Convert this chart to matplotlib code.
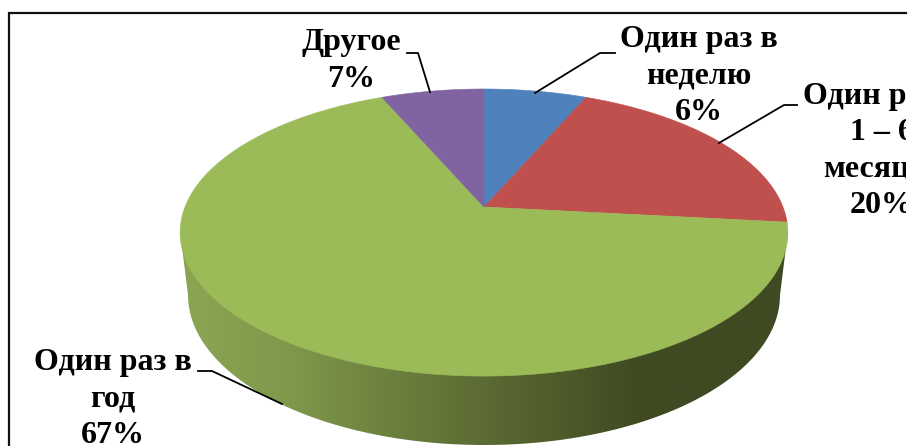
import numpy as np
import matplotlib
matplotlib.use("Agg")
import matplotlib.pyplot as plt
from matplotlib.patches import Polygon, Rectangle
from matplotlib.colors import LinearSegmentedColormap

categories = ["Один раз в\nнеделю", "Один раз в\n1 – 6\nмесяцев", "Один раз в\nгод", "Другое"]
shares_shown = ["6%", "20%", "67%", "7%"]
shares = [6.5, 20.2, 66.8, 6.5]
colors = ["#4f81bd", "#c0504d", "#9bbb59", "#8064a2"]

W, H = 913, 446
fig = plt.figure(figsize=(W / 100, H / 100), dpi=100)
ax = fig.add_axes([0, 0, 1, 1])
ax.set_xlim(0, W)
ax.set_ylim(H, 0)
ax.axis("off")

# projected circle: apex at (CX, CY), perspective factor C
CX, CY = 484, 207
D, A, C = 299.0, 139.0, 0.178


def project(theta):
    """theta measured clockwise from the top of the pie, in radians."""
    u, v = np.sin(theta), np.cos(theta)
    return CX + D * u / (1 + C * v), CY - A * v / (1 + C * v)


# side wall (bottom rim ellipse + gradient)
BX, BY, BRX, BRY = 484, 295, 296, 150
t = np.linspace(np.pi, 0, 200)
rim = np.column_stack([BX + BRX * np.cos(t), BY + BRY * np.sin(t)])
top_x, top_y = project(np.linspace(0, 2 * np.pi, 1000))
left = (top_x.min(), top_y[top_x.argmin()])
right = (top_x.max(), top_y[top_x.argmax()])
side_path = np.vstack([[left], rim, [right]])
side = Polygon(side_path, closed=True, facecolor="none", edgecolor="none", transform=ax.transData)
ax.add_patch(side)
cmap = LinearSegmentedColormap.from_list(
    "side",
    [(0.0, "#8ba653"), (0.18, "#7f984b"), (0.47, "#5f6f35"), (0.75, "#404b22"), (1.0, "#3f4a22")],
)
grad = np.linspace(0, 1, 512)[None, :]
im = ax.imshow(grad, extent=(180, 788, 446, 220), cmap=cmap, aspect="auto", zorder=1, interpolation="bilinear")
im.set_clip_path(side)
ax.set_xlim(0, W)
ax.set_ylim(H, 0)

# top face
edges = np.cumsum([0] + shares) / sum(shares) * 2 * np.pi
for start, end, col in zip(edges[:-1], edges[1:], colors):
    x, y = project(np.linspace(start, end, 300))
    pts = np.vstack([[CX, CY], np.column_stack([x, y])])
    ax.add_patch(Polygon(pts, closed=True, facecolor=col, edgecolor=col, lw=0.4, zorder=2))

# frame
ax.plot([9, 9, 906], [H, 13, 13], color="#111111", lw=1.6, zorder=3, solid_joinstyle="miter")

# labels
clip = Rectangle((0, 0), 906, H, transform=ax.transData, fill=False, edgecolor="none")
ax.add_patch(clip)
label_pos = [(699, 76), (882, 151), (113, 399), (351, 61)]
leaders = [
    [(535, 93), (600, 53), (615, 53)],
    [(719, 143), (784, 105), (797, 105)],
    [(282, 404), (212, 371), (198, 371)],
    [(430, 92), (418, 53), (407, 53)],
]
for cat, pct, (lx, ly), lead in zip(categories, shares_shown, label_pos, leaders):
    txt = ax.text(lx, ly, cat + "\n" + pct, ha="center", va="center", multialignment="center",
                  family="Liberation Serif", weight="bold", fontsize=23.0, linespacing=1.34,
                  color="black", zorder=5)
    txt.set_clip_path(clip)
    txt.set_clip_on(True)
    lx_, ly_ = zip(*lead)
    ax.plot(lx_, ly_, color="black", lw=1.3, zorder=4)

fig.savefig("out.png", dpi=100)
